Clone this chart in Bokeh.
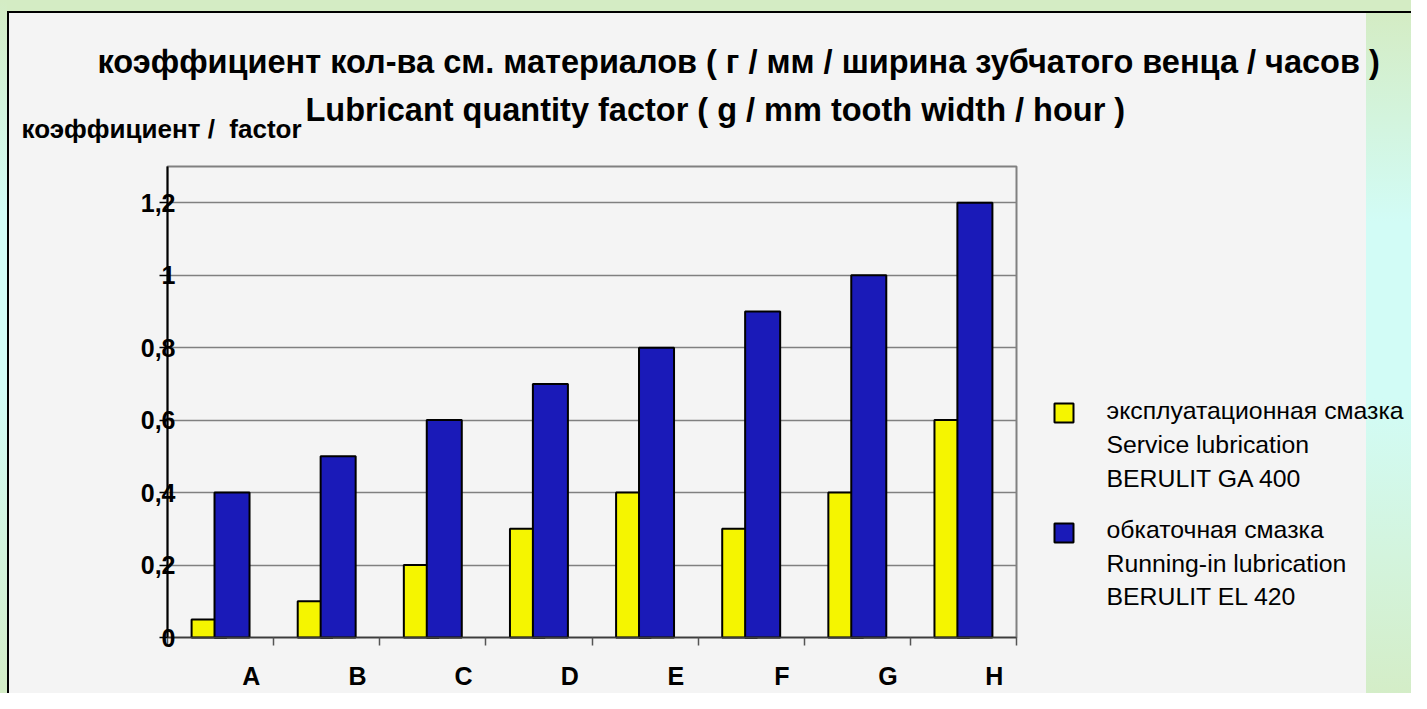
from bokeh.plotting import figure
from bokeh.models import (Range1d, FixedTicker, Label, BoxAnnotation, ColumnDataSource)
from bokeh.transform import dodge
from bokeh.embed import file_html
from bokeh.resources import INLINE

# ---------------- data ----------------
categories = ["A", "B", "C", "D", "E", "F", "G", "H"]
service_lubrication = [0.05, 0.1, 0.2, 0.3, 0.4, 0.3, 0.4, 0.6]   # yellow
running_in_lubrication = [0.4, 0.5, 0.6, 0.7, 0.8, 0.9, 1.0, 1.2]  # blue
y_ticks = [0, 0.2, 0.4, 0.6, 0.8, 1.0, 1.2]
y_tick_labels = ["0", "0,2", "0,4", "0,6", "0,8", "1", "1,2"]

title_ru = "коэффициент кол-ва см. материалов ( г / мм / ширина зубчатого венца / часов )"
title_en = "Lubricant quantity factor ( g / mm tooth width / hour )"
y_title = "коэффициент / \u00a0factor"
legend_service = ["эксплуатационная смазка", "Service lubrication", "BERULIT GA 400"]
legend_running = ["обкаточная смазка", "Running-in lubrication", "BERULIT EL 420"]

FONT = "Liberation Sans"
YELLOW = "#f5f500"
BLUE = "#1a1ab8"

# ---------------- geometry (pixels of the page) ----------------
W, H = 1411, 693
N = len(categories)
YMAX = 1.3
PX_X0, PX_X1 = 167, 1016     # plot area left / right
PX_Y0, PX_Y1 = 637, 166      # plot area bottom / top
UX = (PX_X1 - PX_X0) / N
UY = (PX_Y0 - PX_Y1) / YMAX
FRAME_L, FRAME_B = 21, H

def dx(px):
    return (px - PX_X0) / UX

def dy(py):
    return (PX_Y0 - py) / UY

src = ColumnDataSource(dict(
    x=[i + 0.5 for i in range(N)],
    cat=categories,
    service=service_lubrication,
    running=running_in_lubrication,
))

p = figure(output_backend="svg", toolbar_location=None,
           width=W, height=H,
           x_range=Range1d(dx(FRAME_L), dx(W)), y_range=Range1d(dy(FRAME_B), dy(0)),
           min_border_left=FRAME_L, min_border_top=0,
           min_border_right=0, min_border_bottom=0)
p.title.visible = False

GRAD = "linear-gradient(to bottom, #d4ecc4 0%, #d2fcf6 30%, #d2fcf6 55%, #d4ecc4 100%)"
p.border_fill_color = None
p.background_fill_color = None
p.outline_line_color = None
p.styles = {
    "background": (
        "linear-gradient(#000000, #000000) 7px 11px / 100% 2px no-repeat, "
        "linear-gradient(#000000, #000000) 7px 11px / 2px 100% no-repeat, "
        f"{GRAD} 1366px 13px / 60px 700px no-repeat, "
        "linear-gradient(#f4f4f4, #f4f4f4) 9px 13px / 1357px 700px no-repeat, "
        f"{GRAD} 0px 0px / 7px 709px no-repeat, "
        "#d4ecc4"
    )
}

# plot-area border (grey, top and right visible)
p.add_layout(BoxAnnotation(left=0, right=N, bottom=0, top=YMAX,
                           fill_color=None, line_color="#808080", line_width=2,
                           line_alpha=1, level="underlay"))

BAR_W = 0.33
OFF = 0.108
p.vbar(x=dodge("x", -OFF), top="service", width=BAR_W, source=src,
       fill_color=YELLOW, line_color="black", line_width=2)
p.vbar(x=dodge("x", OFF), top="running", width=BAR_W, source=src,
       fill_color=BLUE, line_color="black", line_width=2)

# y axis
yax = p.yaxis[0]
yax.fixed_location = 0
yax.bounds = (0, YMAX)
yax.ticker = FixedTicker(ticks=y_ticks, minor_ticks=[])
yax.major_label_overrides = dict(zip(y_ticks, y_tick_labels))
yax.axis_line_color = "black"
yax.axis_line_width = 2
yax.major_tick_out = 8
yax.major_tick_in = 0
yax.major_tick_line_color = "black"
yax.major_tick_line_width = 1.5
yax.major_label_standoff = -16
yax.major_label_text_font = FONT
yax.major_label_text_font_style = "bold"
yax.major_label_text_font_size = "25px"
yax.major_label_text_color = "black"
yax.axis_label = " "
yax.axis_label_text_font_size = "1px"
yax.axis_label_standoff = -24

# x axis: tick marks at category boundaries, labels shifted right
label_pos = [i + 0.79 for i in range(N)]
xax = p.xaxis[0]
xax.fixed_location = 0
xax.bounds = (0, N)
xax.ticker = FixedTicker(ticks=label_pos, minor_ticks=list(range(N + 1)))
xax.major_label_overrides = dict(zip(label_pos, categories))
xax.axis_line_color = "#3c3c3c"
xax.axis_line_width = 1.5
xax.major_tick_line_color = None
xax.major_tick_out = 0
xax.major_tick_in = 0
xax.minor_tick_line_color = "#555555"
xax.minor_tick_line_width = 1.5
xax.minor_tick_out = 8
xax.minor_tick_in = 0
xax.major_label_standoff = 16
xax.major_label_text_font = FONT
xax.major_label_text_font_style = "bold"
xax.major_label_text_font_size = "25px"
xax.major_label_text_color = "black"
xax.axis_label = " "
xax.axis_label_text_font_size = "1px"
xax.axis_label_standoff = -80

p.xgrid.grid_line_color = None
p.ygrid.ticker = FixedTicker(ticks=y_ticks[1:])
p.ygrid.cross_bounds = (0, N)
p.ygrid.grid_line_color = "#808080"
p.ygrid.grid_line_width = 1.5

# texts: (px, baseline_py) in page pixels; Bokeh draws ~0.32 em lower
def add_label(text, px, py, size, bold=True):
    p.add_layout(Label(x=dx(px), y=dy(py - 0.32 * size),
                       text=text, text_font=FONT,
                       text_font_size=f"{size}px",
                       text_font_style="bold" if bold else "normal",
                       text_color="black", text_baseline="alphabetic",
                       text_align="left"))

add_label(title_ru, 97, 72, 32.5)
add_label(title_en, 305, 120, 32.5)
add_label(y_title, 21, 137, 26)

# legend
def add_square(px, py, color):
    p.add_layout(BoxAnnotation(left=dx(px), right=dx(px + 19),
                               top=dy(py), bottom=dy(py + 19),
                               fill_color=color, fill_alpha=1,
                               line_color="black", line_width=2, line_alpha=1,
                               level="overlay"))

add_square(1054, 403, YELLOW)
add_square(1054, 523, BLUE)
for txt, by in zip(legend_service, [418, 452, 486]):
    add_label(txt, 1106, by, 24.8, bold=False)
for txt, by in zip(legend_running, [537, 571, 604]):
    add_label(txt, 1106, by, 24.8, bold=False)

open("out.html", "w").write(file_html(p, INLINE))
